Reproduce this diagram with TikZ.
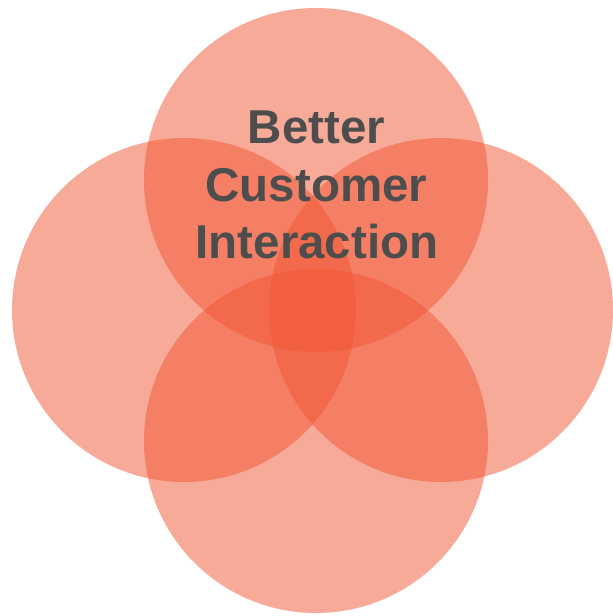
\documentclass[tikz,border=0pt]{standalone}
\usepackage{fontspec}
\setmainfont{Liberation Sans}
\definecolor{petal}{RGB}{240,85,50}
\definecolor{label}{RGB}{77,77,77}
\begin{document}
\begin{tikzpicture}[x=1pt,y=-1pt,
  petalfill/.style={fill=petal,fill opacity=0.5,draw=none},
  caption/.style={text=label,font=\bfseries\fontsize{47.5}{47.5}\selectfont,inner sep=0pt,anchor=base}]
\useasboundingbox (0,0) rectangle (613,616);
% four overlapping circles
\fill[petalfill] (316,180) circle[radius=172];
\fill[petalfill] (184,310) circle[radius=172];
\fill[petalfill] (441,310) circle[radius=172];
\fill[petalfill] (316,441) circle[radius=172];
% title lines
\node[caption] (l1) at (316.5,143) {Better};
\node[caption] (l2) at (316.5,201) {Customer};
\node[caption] (l3) at (317,258) {Interaction};
\end{tikzpicture}
\end{document}
